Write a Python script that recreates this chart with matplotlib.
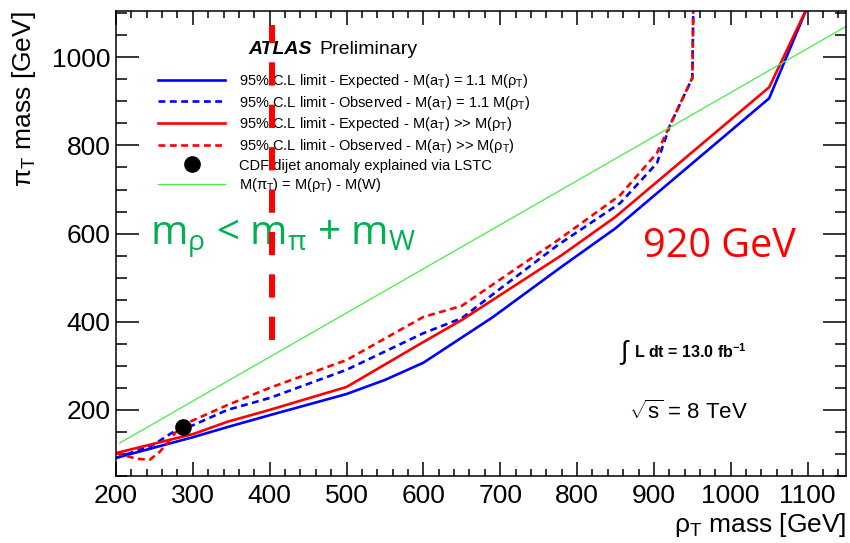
import numpy as np
import matplotlib
matplotlib.use("Agg")
import matplotlib.pyplot as plt
from matplotlib.ticker import MultipleLocator

plt.rcParams['font.family'] = ['Liberation Sans', 'DejaVu Sans']
plt.rcParams['mathtext.fontset'] = 'custom'
plt.rcParams['mathtext.rm'] = 'Liberation Sans'
plt.rcParams['mathtext.it'] = 'Liberation Sans:italic'
plt.rcParams['mathtext.bf'] = 'Liberation Sans:bold'

# expected limit, M(a_T) = 1.1 M(rho_T)
exp_11_x = [200, 300, 345, 400, 500, 550, 600, 690, 780, 850, 1050, 1100]
exp_11_y = [91, 138, 161, 188, 236, 268, 307, 410, 525, 612, 907, 1115]
# observed limit, M(a_T) = 1.1 M(rho_T)
obs_11_x = [200, 248, 279, 300, 345, 400, 500, 600, 650, 700, 775, 856, 904, 921, 950, 952]
obs_11_y = [91, 120, 155, 165, 200, 227, 291, 374, 408, 475, 574, 669, 760, 846, 953, 1200]
# expected limit, M(a_T) >> M(rho_T)
exp_gg_x = [200, 300, 345, 400, 500, 600, 650, 780, 850, 1050, 1100]
exp_gg_y = [102, 145, 173, 200, 252, 354, 404, 551, 638, 932, 1115]
# observed limit, M(a_T) >> M(rho_T)
obs_gg_x = [200, 227, 244, 257, 268, 277, 296, 345, 400, 500, 600, 650, 700, 775, 856, 904, 921, 950, 952]
obs_gg_y = [102, 89, 87, 105, 127, 148, 173, 211, 250, 313, 411, 436, 496, 585, 687, 783, 846, 953, 1200]
# M(pi_T) = M(rho_T) - M(W)
kin_x = [205, 1150]
kin_y = [125, 1070]
# CDF anomaly point
cdf_x = [287]
cdf_y = [161]
# slide annotation: vertical cut at rho mass
cut_x = 403
cut_y = [359, 1073]

fig = plt.figure(figsize=(8.5, 5.43), dpi=100)
ax = fig.add_axes([0.1365, 0.1234, 0.8588, 0.8563])

lw = 1.9
dash = (0, (2.6, 1.7))
ax.plot(exp_11_x, exp_11_y, color='#0000ff', lw=lw, label=r'95% C.L limit - Expected - M(a$_{\mathregular{T}}$) = 1.1 M(ρ$_{\mathregular{T}}$)')
ax.plot(obs_11_x, obs_11_y, color='#0000ff', lw=lw, ls=dash, label=r'95% C.L limit - Observed - M(a$_{\mathregular{T}}$) = 1.1 M(ρ$_{\mathregular{T}}$)')
ax.plot(exp_gg_x, exp_gg_y, color='#ff0000', lw=lw, label=r'95% C.L limit - Expected - M(a$_{\mathregular{T}}$) >> M(ρ$_{\mathregular{T}}$)')
ax.plot(obs_gg_x, obs_gg_y, color='#ff0000', lw=lw, ls=dash, label=r'95% C.L limit - Observed - M(a$_{\mathregular{T}}$) >> M(ρ$_{\mathregular{T}}$)')
ax.plot(cdf_x, cdf_y, 'o', color='black', ms=11, ls='none', label='CDF dijet anomaly explained via LSTC')
ax.plot(kin_x, kin_y, color='#44ee44', lw=0.9, label=r'M(π$_{\mathregular{T}}$) = M(ρ$_{\mathregular{T}}$) - M(W)')

ax.plot([cut_x, cut_x], cut_y, color='#ff0000', lw=4.3, ls=(0, (3.9, 3.2)), zorder=10)

ax.set_xlim(200, 1150)
ax.set_ylim(50, 1105)
ax.xaxis.set_major_locator(MultipleLocator(100))
ax.xaxis.set_minor_locator(MultipleLocator(20))
ax.yaxis.set_major_locator(MultipleLocator(200))
ax.yaxis.set_minor_locator(MultipleLocator(50))
ax.tick_params(which='both', direction='in', top=True, right=True, labelsize=19, width=1.1, colors='black')
ax.tick_params(axis='x', which='major', length=10, pad=6)
ax.tick_params(axis='x', which='minor', length=5)
ax.tick_params(axis='y', which='major', length=16.5, pad=4)
ax.tick_params(axis='y', which='minor', length=8)
for s in ax.spines.values():
    s.set_linewidth(1.1)

ax.set_xlabel(r'ρ$_{\mathregular{T}}$ mass [GeV]', fontsize=19, loc='right', labelpad=2)
ax.set_ylabel(r'π$_{\mathregular{T}}$ mass [GeV]', fontsize=19, loc='top', labelpad=10)

ax.legend(loc='upper left', bbox_to_anchor=(0.0575, 0.869), frameon=False, fontsize=10.5,
          handlelength=4.6, handletextpad=0.95, labelspacing=0.25, borderpad=0, borderaxespad=0)

ax.text(0.181, 0.918, 'ATLAS', transform=ax.transAxes, fontsize=14, fontweight='bold', style='italic', va='center')
ax.text(0.279, 0.918, 'Preliminary', transform=ax.transAxes, fontsize=14, va='center')

ax.text(0.69, 0.268, '∫', transform=ax.transAxes, fontsize=19, va='center')
ax.text(0.71, 0.268, r'L dt = 13.0 fb$^{\mathregular{-1}}$', transform=ax.transAxes,
        fontsize=11.5, fontweight='bold', va='center')
ax.text(0.703, 0.138, r'$\sqrt{\mathregular{s}}$ = 8 TeV', transform=ax.transAxes, fontsize=16, va='center')

ax.text(0.046, 0.51, r'm$_{\mathregular{ρ}}$ < m$_{\mathregular{π}}$ + m$_{\mathregular{W}}$', transform=ax.transAxes,
        fontsize=29, color='#00b050', family=['Open Sans', 'DejaVu Sans'], va='center')
ax.text(0.722, 0.494, '920 GeV', transform=ax.transAxes, fontsize=28.5, color='#ff0000',
        family=['Open Sans', 'DejaVu Sans'], va='center')

fig.savefig('out.png', dpi=100)
